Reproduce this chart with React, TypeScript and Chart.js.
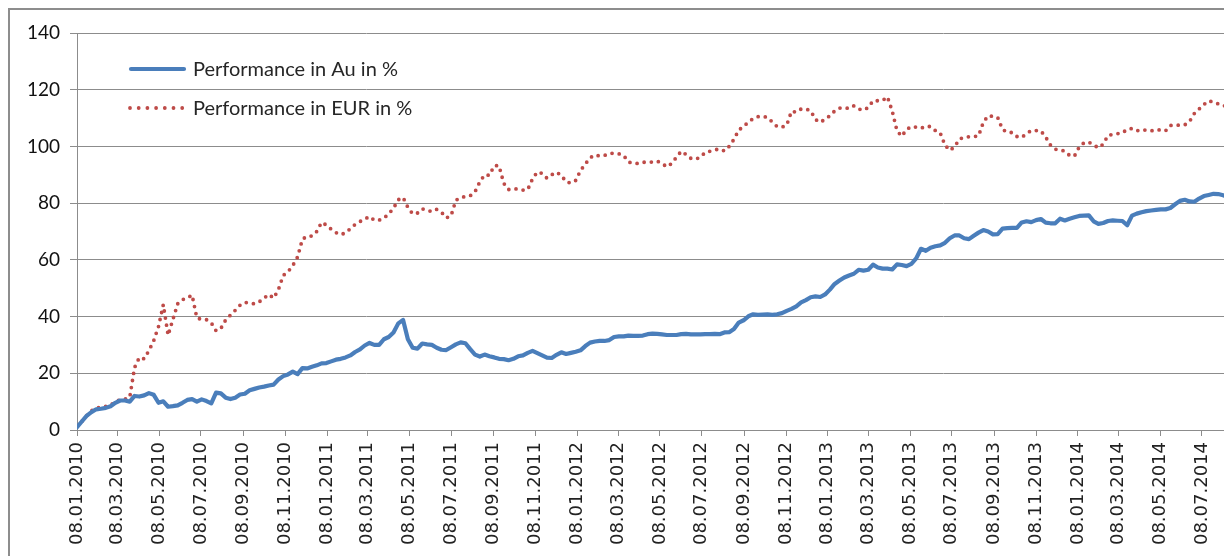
import { useEffect, useRef } from "react";
import { Chart, registerables } from "chart.js";

Chart.register(...registerables);

// ---- data ----
const seriesNames = ["Performance in Au in %", "Performance in EUR in %"];
const firstDate = "08.01.2010"; // first weekly observation
const stepDays = 7; // weekly observations
const axisEndDate = "21.08.2014";

const tickLabels = [
  "08.01.2010", "08.03.2010", "08.05.2010", "08.07.2010", "08.09.2010", "08.11.2010",
  "08.01.2011", "08.03.2011", "08.05.2011", "08.07.2011", "08.09.2011", "08.11.2011",
  "08.01.2012", "08.03.2012", "08.05.2012", "08.07.2012", "08.09.2012", "08.11.2012",
  "08.01.2013", "08.03.2013", "08.05.2013", "08.07.2013", "08.09.2013", "08.11.2013",
  "08.01.2014", "08.03.2014", "08.05.2014", "08.07.2014",
];

const yTickValues = [0, 20, 40, 60, 80, 100, 120, 140];

const auValues = [
  1.0, 3.0, 5.0, 6.3, 7.3, 7.5, 7.8, 8.4, 9.6, 10.4,
  10.4, 10.0, 12.0, 11.8, 12.2, 13.0, 12.4, 9.6, 10.1, 8.2,
  8.4, 8.7, 9.6, 10.6, 10.9, 10.0, 10.8, 10.2, 9.4, 13.2,
  12.9, 11.4, 10.9, 11.4, 12.5, 12.8, 14.0, 14.5, 15.0, 15.3,
  15.7, 16.0, 17.8, 19.0, 19.6, 20.6, 19.7, 21.8, 21.7, 22.3,
  22.8, 23.5, 23.6, 24.2, 24.8, 25.1, 25.6, 26.3, 27.5, 28.4,
  29.8, 30.7, 30.0, 30.0, 32.0, 32.8, 34.4, 37.6, 38.8, 32.0,
  29.0, 28.7, 30.5, 30.2, 30.0, 29.0, 28.3, 28.2, 29.2, 30.2,
  30.9, 30.6, 28.5, 26.6, 25.9, 26.6, 26.0, 25.6, 25.1, 25.0,
  24.6, 25.1, 26.0, 26.3, 27.2, 27.9, 27.1, 26.3, 25.5, 25.4,
  26.5, 27.4, 26.8, 27.2, 27.6, 28.1, 29.6, 30.8, 31.2, 31.4,
  31.4, 31.7, 32.8, 33.0, 33.0, 33.3, 33.2, 33.2, 33.3, 33.8,
  34.0, 33.9, 33.7, 33.5, 33.5, 33.5, 33.8, 33.9, 33.7, 33.7,
  33.7, 33.8, 33.8, 33.9, 33.8, 34.4, 34.5, 35.6, 37.9, 38.7,
  40.1, 40.8, 40.6, 40.7, 40.8, 40.6, 40.8, 41.2, 42.0, 42.7,
  43.6, 45.0, 45.8, 46.8, 47.1, 46.9, 47.8, 49.5, 51.5, 52.7,
  53.8, 54.5, 55.1, 56.5, 56.2, 56.5, 58.3, 57.3, 56.9, 56.9,
  56.6, 58.4, 58.2, 57.8, 58.6, 60.5, 63.9, 63.2, 64.3, 64.8,
  65.1, 66.0, 67.6, 68.6, 68.6, 67.6, 67.3, 68.5, 69.6, 70.5,
  70.0, 69.0, 69.1, 71.0, 71.2, 71.3, 71.3, 73.2, 73.6, 73.3,
  74.0, 74.4, 73.1, 72.9, 72.9, 74.5, 73.9, 74.5, 75.0, 75.5,
  75.6, 75.7, 73.6, 72.7, 73.0, 73.7, 73.9, 73.8, 73.7, 72.2,
  75.6, 76.3, 76.8, 77.2, 77.4, 77.6, 77.8, 77.8, 78.3, 79.6,
  80.8, 81.2, 80.6, 80.5, 81.6, 82.5, 82.9, 83.3, 83.2, 82.8,
  82.2, 82.4,
];

const eurValues = [
  1.5, 3.0, 5.0, 6.8, 7.8, 8.0, 8.3, 8.8, 10.0, 10.7,
  10.9, 11.5, 22.0, 25.6, 25.1, 28.0, 31.5, 36.5, 44.2, 33.4,
  39.0, 44.5, 46.0, 46.5, 47.6, 39.5, 39.0, 38.9, 37.8, 35.0,
  35.8, 38.8, 40.5, 42.2, 44.0, 45.0, 44.8, 44.5, 45.2, 46.5,
  47.8, 46.5, 49.5, 54.5, 55.8, 58.0, 61.0, 67.3, 68.3, 68.4,
  70.0, 73.2, 72.3, 70.8, 69.6, 68.9, 69.5, 71.0, 72.5, 73.5,
  74.4, 75.3, 74.0, 74.0, 74.7, 76.2, 78.2, 81.2, 82.0, 78.5,
  76.2, 76.5, 78.0, 77.5, 77.0, 77.8, 76.8, 74.8, 75.5, 81.0,
  82.0, 82.3, 82.6, 84.0, 87.5, 90.0, 89.8, 93.2, 93.2, 87.0,
  84.8, 85.0, 85.0, 84.6, 84.8, 88.6, 91.0, 90.5, 88.8, 90.0,
  90.9, 89.8, 87.5, 87.1, 88.0, 91.5, 93.8, 96.0, 97.0, 96.6,
  96.8, 97.5, 97.6, 97.4, 96.8, 94.5, 94.1, 94.0, 94.4, 94.5,
  94.5, 94.8, 94.0, 92.8, 94.0, 96.2, 98.3, 97.2, 95.8, 95.5,
  96.2, 97.9, 98.3, 98.8, 99.1, 98.4, 100.0, 102.5, 105.8, 107.0,
  108.6, 109.8, 110.5, 110.6, 110.2, 108.6, 107.0, 106.8, 107.5, 112.4,
  112.1, 113.2, 113.2, 112.6, 109.5, 108.5, 109.6, 110.8, 112.5, 113.5,
  113.6, 113.4, 114.3, 113.2, 112.8, 113.7, 116.1, 116.1, 116.2, 117.5,
  112.5, 105.5, 103.6, 106.0, 107.0, 106.8, 106.4, 107.1, 107.0, 105.6,
  104.8, 100.5, 98.6, 99.8, 102.6, 103.2, 103.4, 103.5, 103.7, 108.5,
  110.8, 110.6, 110.2, 106.0, 105.0, 104.9, 103.5, 103.2, 104.5, 105.6,
  105.6, 105.5, 103.3, 100.5, 99.0, 98.8, 98.3, 96.8, 96.6, 99.8,
  101.3, 101.5, 100.5, 99.5, 100.8, 103.9, 104.2, 104.5, 104.8, 106.0,
  106.3, 105.5, 105.9, 105.7, 105.5, 105.9, 105.8, 105.5, 107.4, 107.5,
  107.5, 107.6, 108.8, 111.6, 113.2, 114.8, 116.1, 115.6, 115.0, 114.3,
  114.4, 114.5,
];

// ---- helpers ----
function toUTC(s: string): number {
  const [d, m, y] = s.split(".").map(Number);
  return Date.UTC(y, m - 1, d);
}
const base = toUTC(firstDate);
const dayOf = (s: string) => Math.round((toUTC(s) - base) / 864e5);
const tickDays = tickLabels.map(dayOf);

const BLUE = "#4A7EBB";
const RED = "#BE4B48";
const GRID = "#8c8c8c";

const legendPlugin = {
  id: "insideLegend",
  afterDraw(chart: any) {
    const ctx = chart.ctx as CanvasRenderingContext2D;
    chart.data.datasets.forEach((ds: any, i: number) => {
      const y = 59 + i * 39;
      ctx.save();
      ctx.strokeStyle = ds.borderColor;
      ctx.lineWidth = ds.borderWidth;
      ctx.lineCap = "round";
      ctx.setLineDash(i === 0 ? [] : [0, 8.7]);
      ctx.beginPath();
      ctx.moveTo(i === 0 ? 121 : 120, y);
      ctx.lineTo(i === 0 ? 174 : 173, y);
      ctx.stroke();
      ctx.setLineDash([]);
      ctx.fillStyle = "#262626";
      ctx.font = "20px Lato";
      ctx.textBaseline = "middle";
      ctx.textAlign = "left";
      ctx.fillText(ds.label, 183, y + 1);
      ctx.restore();
    });
  },
};

export default function App() {
  const ref = useRef<HTMLCanvasElement | null>(null);

  useEffect(() => {
    document.documentElement.style.overflow = "hidden";
    document.body.style.overflow = "hidden";
    const canvas = ref.current;
    if (!canvas) return;
    const chart = new Chart(canvas, {
      type: "line",
      data: {
        datasets: [
          {
            label: seriesNames[0],
            data: auValues.map((v, i) => ({ x: i * stepDays, y: v })),
            borderColor: BLUE,
            backgroundColor: BLUE,
            borderWidth: 4.2,
            borderJoinStyle: "round",
            borderCapStyle: "round",
            pointRadius: 0,
            tension: 0,
          },
          {
            label: seriesNames[1],
            data: eurValues.map((v, i) => ({ x: i * stepDays, y: v })),
            borderColor: RED,
            backgroundColor: RED,
            borderWidth: 3.8,
            borderDash: [0, 7.2],
            borderCapStyle: "round",
            pointRadius: 0,
            tension: 0,
          },
        ],
      },
      options: {
        animation: false,
        responsive: false,
        events: [],
        layout: { padding: { top: 23, right: 0, bottom: 0, left: 0 } },
        plugins: {
          legend: { display: false },
          tooltip: { enabled: false },
          title: { display: false },
        },
        scales: {
          x: {
            type: "linear",
            min: 0,
            max: dayOf(axisEndDate),
            afterBuildTicks: (scale: any) => {
              scale.ticks = tickDays.map((v) => ({ value: v }));
            },
            afterFit: (scale: any) => {
              scale.height = 126;
              scale.paddingLeft = 0;
              scale.paddingRight = 0;
            },
            ticks: {
              autoSkip: false,
              maxRotation: 90,
              minRotation: 90,
              padding: 6,
              color: "#222",
              font: { family: "DejaVu Sans", size: 18 },
              callback: (_v: any, i: number) => tickLabels[i],
            },
            grid: {
              drawOnChartArea: false,
              drawTicks: true,
              tickLength: 6,
              color: GRID,
            },
            border: { display: true, color: GRID, width: 1 },
          },
          y: {
            min: 0,
            max: 140,
            afterBuildTicks: (scale: any) => {
              scale.ticks = yTickValues.map((v) => ({ value: v }));
            },
            afterFit: (scale: any) => {
              scale.width = 67;
            },
            ticks: {
              padding: 10,
              color: "#111",
              font: { family: "Lato", size: 19 },
              callback: (v: any) => String(v),
            },
            grid: {
              color: GRID,
              lineWidth: 1,
              drawTicks: true,
              tickLength: 7,
            },
            border: { display: true, color: GRID, width: 1 },
          },
        },
      },
      plugins: [legendPlugin],
    } as any);
    return () => chart.destroy();
  }, []);

  return (
    <div
      style={{
        position: "relative",
        width: 1224,
        height: 548,
        overflow: "hidden",
        borderTop: "2px solid #8d8d8d",
        borderLeft: "2px solid #8d8d8d",
        boxSizing: "border-box",
        background: "#fff",
      }}
    >
      <canvas ref={ref} width={1222} height={546} style={{ display: "block" }} />
    </div>
  );
}
